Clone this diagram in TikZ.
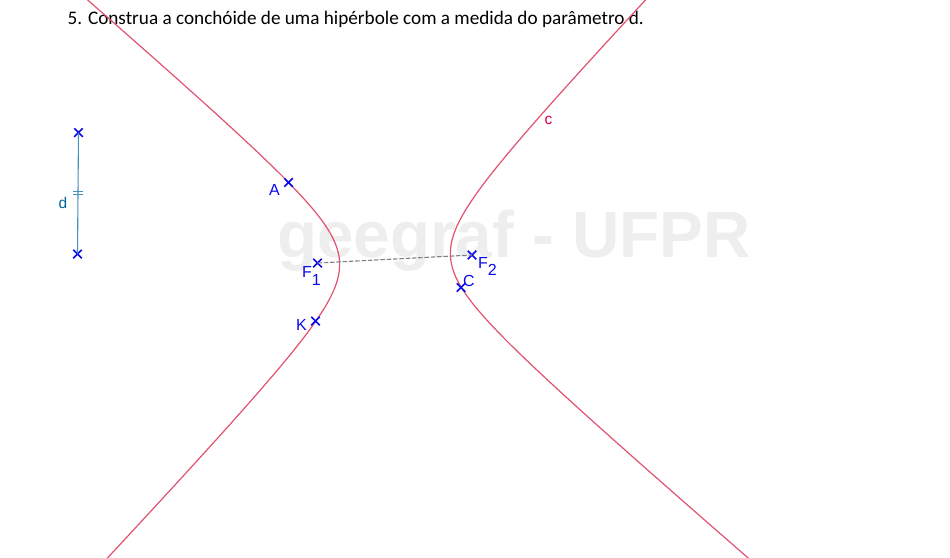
\documentclass[tikz,border=0pt]{standalone}
\usepackage{fontspec}
\setmainfont{Liberation Sans}
\newfontfamily\titlefont{Carlito}
\usetikzlibrary{shapes.misc}
\definecolor{curvecol}{RGB}{226,82,112}
\definecolor{ptcol}{RGB}{10,10,235}
\definecolor{segcol}{RGB}{70,145,185}
\definecolor{dcol}{RGB}{0,100,160}
\definecolor{ccol}{RGB}{220,0,60}
\definecolor{wmcol}{RGB}{238,238,238}
\tikzset{
  ptmark/.style={cross out,draw=ptcol,line width=1.6pt,minimum size=8.5pt,inner sep=0pt,outer sep=0pt},
  ptlabel/.style={text=ptcol,font=\fontsize{16}{16}\selectfont,inner sep=0pt},
  curveline/.style={curvecol,line width=1.2pt,line join=round},
  seglabel/.style={inner sep=0pt,font=\fontsize{15.5}{15}\selectfont}
}
\begin{document}
\begin{tikzpicture}[x=1pt,y=-1pt]
\useasboundingbox (0,0) rectangle (950,557);
\node[text=wmcol,font=\bfseries\fontsize{65.5}{65}\selectfont,inner sep=0pt,anchor=center] (wm) at (514,241) {geegraf - UFPR};
\node[anchor=base west,inner sep=0pt,font=\titlefont\fontsize{19.2}{19}\selectfont] (title) at (67.5,24) {5. Construa a conchóide de uma hipérbole com a medida do parâmetro d.};
\begin{scope}
\clip (0,0) rectangle (950,557);
\draw[curveline] plot[domain=-2.75:2.75,samples=120,smooth,variable=\t]
 ({395+55.5*cosh(\t)*0.9986+52.9*sinh(\t)*0.052},{259-55.5*cosh(\t)*0.052+52.9*sinh(\t)*0.9986});
\draw[curveline] plot[domain=-2.75:2.75,samples=120,smooth,variable=\t]
 ({395-55.5*cosh(\t)*0.9986+52.9*sinh(\t)*0.052},{259+55.5*cosh(\t)*0.052+52.9*sinh(\t)*0.9986});
\end{scope}
\node[ptmark] (P) at (78.5,132.5) {};
\node[ptmark] (Q) at (77.5,254) {};
\draw[segcol,line width=1.1pt] (P.center) -- (Q.center);
\coordinate (tick) at (78,192.5);
\draw[segcol,line width=1pt] ([shift={(-5,-1.5)}]tick) -- ([shift={(5,-1.5)}]tick);
\draw[segcol,line width=1pt] ([shift={(-5,1.5)}]tick) -- ([shift={(5,1.5)}]tick);
\node[seglabel,text=dcol] (dlab) at (63,203) {d};
\node[ptmark] (F1) at (317.5,263) {};
\node[ptmark] (F2) at (472,255) {};
\draw[gray,line width=1.1pt,dash pattern=on 4.5pt off 1.8pt] (F1.center) -- (F2.center);
\node[ptmark] (A) at (288.5,182.5) {};
\node[ptmark] (K) at (315.5,321) {};
\node[ptmark] (C) at (461,287.5) {};
\node[ptlabel] (Alab) at (274.5,189.5) {A};
\node[ptlabel] (Klab) at (301.5,324.5) {K};
\node[ptlabel] (Clab) at (469,281) {C};
\node[ptlabel,anchor=base west] (F1lab) at (302,277.5) {F\raisebox{-8pt}{1}};
\node[ptlabel,anchor=base west] (F2lab) at (478,268.5) {F\raisebox{-7pt}{2}};
\node[seglabel,text=ccol] (clab) at (548.5,120.5) {c};
\end{tikzpicture}
\end{document}
